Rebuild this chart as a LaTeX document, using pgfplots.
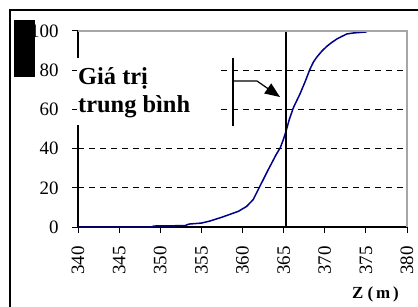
\documentclass[border=0pt]{standalone}
\usepackage{fontspec}
\setmainfont{Liberation Serif}
\usepackage{pgfplots}
\pgfplotsset{compat=1.18}
\usetikzlibrary{arrows.meta}
\definecolor{curveblue}{RGB}{0,0,140}
\begin{document}
\begin{tikzpicture}
\useasboundingbox (0bp,0bp) rectangle (418bp,307bp);
\clip (0bp,0bp) rectangle (418bp,307bp);
\fill[white] (0bp,0bp) rectangle (418bp,307bp);
\begin{axis}[
  at={(78bp,80bp)}, anchor=south west, scale only axis,
  width=329bp, height=196bp,
  xmin=340, xmax=380, ymin=0, ymax=100,
  xtick={340,345,...,380}, ytick={0,20,...,100},
  axis x line*=bottom, axis y line*=left,
  axis line style={black, line width=1.2bp, -},
  tick align=outside, major tick length=6bp,
  tick style={black, line width=1bp},
  ymajorgrids,
  grid style={black, line width=0.7bp, dash pattern=on 6bp off 5bp},
  /pgf/number format/assume math mode=true,
  ticklabel style={font=\fontsize{19}{22}\selectfont},
  xticklabel style={rotate=90, anchor=east},
  xticklabel shift=10bp, yticklabel shift=10bp,
  clip=false,
]
\addplot[curveblue, line width=1.5bp] coordinates {
(340,0) (349,0) (349.2,0.5) (353,0.7) (353.5,1.5) (355,2) (356,3) (357.5,5)
(358.5,6.5) (359.5,8) (360.5,10.5) (361.3,14) (361.9,19) (362.5,24) (363.1,29)
(363.6,33) (364.1,37) (364.6,40.5) (365,45) (365.3,49) (365.7,55) (366.2,61)
(366.6,64.5) (367.0,68) (367.6,74) (368.2,80.5) (368.6,84) (369,86.5) (369.6,89.5)
(370.2,92) (370.8,94) (371.5,96) (372.2,97.5) (372.7,98.5) (373.5,99) (375,99.5)
(375.2,100) (380,100)
};
\addplot[black, line width=2bp] coordinates {(365.3,0) (365.3,100)};
\draw[gray!70, line width=1.2bp] (axis cs:340,100) -- (axis cs:380,100) -- (axis cs:380,0);
\end{axis}
\draw[line width=1.2bp] (10bp,-10bp) -- (10bp,297bp) -- (430bp,297bp);
\fill[black] (14bp,230bp) rectangle (35bp,287bp);
\fill[white] (77bp,182bp) rectangle (217bp,249bp);
\draw[line width=1.2bp] (233bp,249bp) -- (233bp,181bp);
\draw[line width=1.2bp, -{Triangle[length=15bp,width=12bp]}] (233bp,226bp) -- (257bp,226bp) -- (280bp,210bp);
\node[anchor=base west, inner sep=0pt, font=\bfseries\fontsize{24.5}{28}\selectfont] at (78bp,222.5bp) {Giá trị};
\node[anchor=base west, inner sep=0pt, font=\bfseries\fontsize{24.5}{28}\selectfont] at (78bp,194.5bp) {trung bình};
\node[anchor=base west, inner sep=0pt, font=\bfseries\fontsize{17}{19}\selectfont] at (352bp,9bp) {Z (\,m\,)};
\end{tikzpicture}
\end{document}
